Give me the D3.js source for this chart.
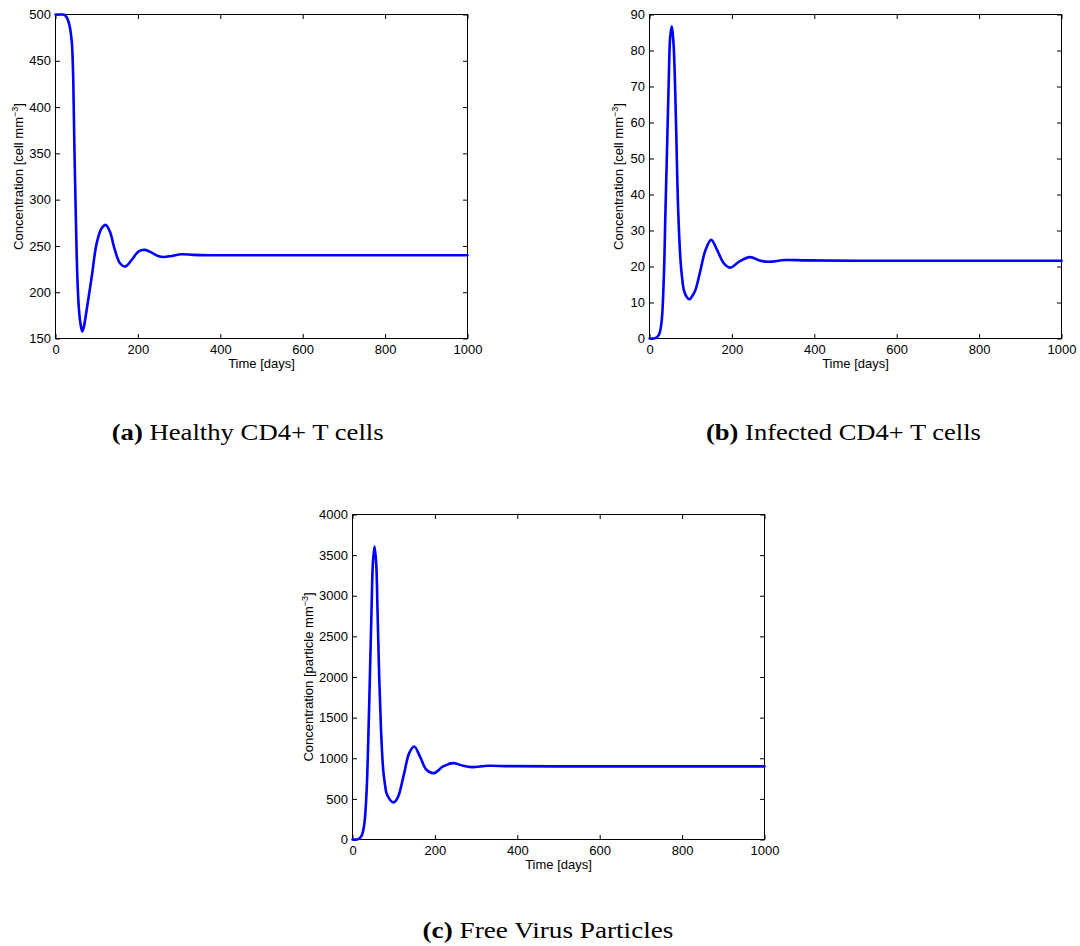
<!DOCTYPE html>
<html><head><meta charset="utf-8">
<script src="https://cdn.jsdelivr.net/npm/d3@7"></script>
<style>body{margin:0;background:#fff}</style>
</head><body><svg id="chart" width="1080" height="946"></svg>
<script>
// ---------- data ----------
const timeA = [0, 15, 22, 27, 31, 35, 38, 40, 43, 45.7, 49, 53, 57, 61, 65, 69, 75.7, 88, 100, 112, 122, 132, 144, 157, 169, 185, 201, 217, 233, 249, 262, 282, 306, 335, 375, 500, 700, 1000];
const healthyA = [500, 500, 499.5, 497, 493, 486, 477, 468, 432, 361, 289, 217, 181, 165, 157.6, 163, 181, 217, 253, 269, 272.7, 265.5, 245.7, 231, 227.7, 234.9, 243.9, 245.7, 242.8, 239.2, 238.1, 239.2, 241, 240.3, 240, 240, 240, 240];

const timeB = [0, 14, 22.7, 29, 34.8, 38.8, 42.9, 46.9, 50.2, 54.2, 58.3, 61.5, 65.5, 69.6, 75.2, 79, 83.3, 90, 97, 105, 111.7, 123.8, 136, 149.7, 164, 180.4, 196.6, 216.8, 243.5, 269.4, 289.6, 330, 378.6, 500, 1000];
const infectedB = [0, 0.1, 1.0, 4.3, 17.2, 35.7, 54.2, 72.6, 83.7, 86.7, 81.9, 72.6, 54.2, 35.7, 21.8, 17.0, 13.5, 11.6, 10.9, 12.0, 13.5, 19, 24.6, 27.4, 24.6, 20.9, 19.7, 21.3, 22.6, 21.6, 21.3, 21.8, 21.7, 21.6, 21.6];

const timeC = [0, 14, 21.9, 28.4, 34, 38.1, 42.2, 46.2, 49.5, 53.4, 57.5, 60.7, 64.8, 68.9, 74.5, 78.5, 82.5, 91, 98.8, 106.9, 112.6, 125.5, 137.6, 149.8, 163.6, 179.6, 197.5, 220, 244.4, 268.7, 288.8, 329.4, 378, 500, 1000];
const virusC = [0, 5, 45, 181, 571, 1186, 2006, 2827, 3402, 3606, 3402, 2827, 2006, 1391, 858, 690, 571, 490, 455, 490, 550, 817, 1063, 1145, 1022, 858, 817, 899, 940, 907, 891, 907, 903, 900, 900];

const xTicks = [0, 200, 400, 600, 800, 1000];
const yTicksA = [150, 200, 250, 300, 350, 400, 450, 500];
const yTicksB = [0, 10, 20, 30, 40, 50, 60, 70, 80, 90];
const yTicksC = [0, 500, 1000, 1500, 2000, 2500, 3000, 3500, 4000];

const xLabel = "Time [days]";
const yLabelMain = ["Concentration [cell mm", "Concentration [cell mm", "Concentration [particle mm"];
const yLabelSup = "\u22123";
const captionLetters = ["(a)", "(b)", "(c)"];
const captionTexts = ["Healthy CD4+ T cells", "Infected CD4+ T cells", "Free Virus Particles"];

// ---------- layout ----------
const svg = d3.select("#chart");
svg.append("rect").attr("width", 1080).attr("height", 946).attr("fill", "#fff");

const panels = [
  {t: timeA, v: healthyA, yd: [150, 500], yt: yTicksA, l: 55.5, r: 467.5, top: 14.5, b: 338.5, ylx: 22.5,
   cap: {x: 111.7, w: 272, y: 440}},
  {t: timeB, v: infectedB, yd: [0, 90], yt: yTicksB, l: 649.5, r: 1061.5, top: 14.5, b: 338.5, ylx: 623.3,
   cap: {x: 706, w: 275, y: 440}},
  {t: timeC, v: virusC, yd: [0, 4000], yt: yTicksC, l: 352.5, r: 764.5, top: 514.5, b: 839.5, ylx: 312.7,
   cap: {x: 422.5, w: 251, y: 938}}
];

const tickFont = "'Liberation Sans', Arial, Helvetica, sans-serif";
const TL = 4.5;

panels.forEach((p, i) => {
  const x = d3.scaleLinear().domain([0, 1000]).range([p.l, p.r]);
  const y = d3.scaleLinear().domain(p.yd).range([p.b, p.top]);

  const styleAxis = g => {
    g.select(".domain").remove();
    g.selectAll(".tick line").attr("stroke", "#000").attr("stroke-width", 1);
    g.selectAll(".tick text").attr("fill", "#000").attr("font-size", 13).attr("font-family", tickFont);
  };

  svg.append("g").attr("transform", `translate(0,${p.b})`)
    .call(d3.axisBottom(x).tickValues(xTicks).tickFormat(d3.format("d")).tickSizeInner(-TL).tickSizeOuter(0).tickPadding(6.5))
    .call(styleAxis);
  svg.append("g").attr("transform", `translate(0,${p.top})`)
    .call(d3.axisTop(x).tickValues(xTicks).tickFormat("").tickSizeInner(-TL).tickSizeOuter(0))
    .call(styleAxis);
  svg.append("g").attr("transform", `translate(${p.l},0)`)
    .call(d3.axisLeft(y).tickValues(p.yt).tickFormat(d3.format("d")).tickSizeInner(-TL).tickSizeOuter(0).tickPadding(4.5))
    .call(styleAxis);
  svg.append("g").attr("transform", `translate(${p.r},0)`)
    .call(d3.axisRight(y).tickValues(p.yt).tickFormat("").tickSizeInner(-TL).tickSizeOuter(0))
    .call(styleAxis);

  // frame
  svg.append("rect").attr("x", p.l).attr("y", p.top).attr("width", p.r - p.l).attr("height", p.b - p.top)
    .attr("fill", "none").attr("stroke", "#000").attr("stroke-width", 1);

  // curve
  const data = p.t.map((d, k) => [d, p.v[k]]);
  svg.append("path").datum(data)
    .attr("fill", "none").attr("stroke", "#0000ff").attr("stroke-width", 2.6)
    .attr("stroke-linejoin", "round").attr("stroke-linecap", "round")
    .attr("d", d3.line().x(d => x(d[0])).y(d => y(d[1])).curve(d3.curveCatmullRom.alpha(0.5)));

  // x label
  svg.append("text").attr("x", (p.l + p.r) / 2).attr("y", p.b + 29.5)
    .attr("text-anchor", "middle").attr("font-size", 13).attr("font-family", tickFont).attr("fill", "#000")
    .text(xLabel);

  // y label
  const yl = svg.append("text")
    .attr("transform", `translate(${p.ylx},${(p.top + p.b) / 2}) rotate(-90)`)
    .attr("text-anchor", "middle").attr("font-size", 13).attr("font-family", tickFont).attr("fill", "#000");
  yl.append("tspan").text(yLabelMain[i]);
  yl.append("tspan").attr("font-size", 9).attr("dy", -5).text(yLabelSup);
  yl.append("tspan").attr("font-size", 13).attr("dy", 5).text("]");

  // caption
  const cg = svg.append("g");
  const ct = cg.append("text").attr("font-family", "'Liberation Serif', 'Times New Roman', serif")
    .attr("font-size", 23).attr("fill", "#000");
  ct.append("tspan").attr("font-weight", "bold").text(captionLetters[i]);
  ct.append("tspan").text(" " + captionTexts[i]);
  const w = ct.node().getComputedTextLength();
  cg.attr("transform", `translate(${p.cap.x},${p.cap.y}) scale(${p.cap.w / w},1)`);
});
</script>
</body></html>
